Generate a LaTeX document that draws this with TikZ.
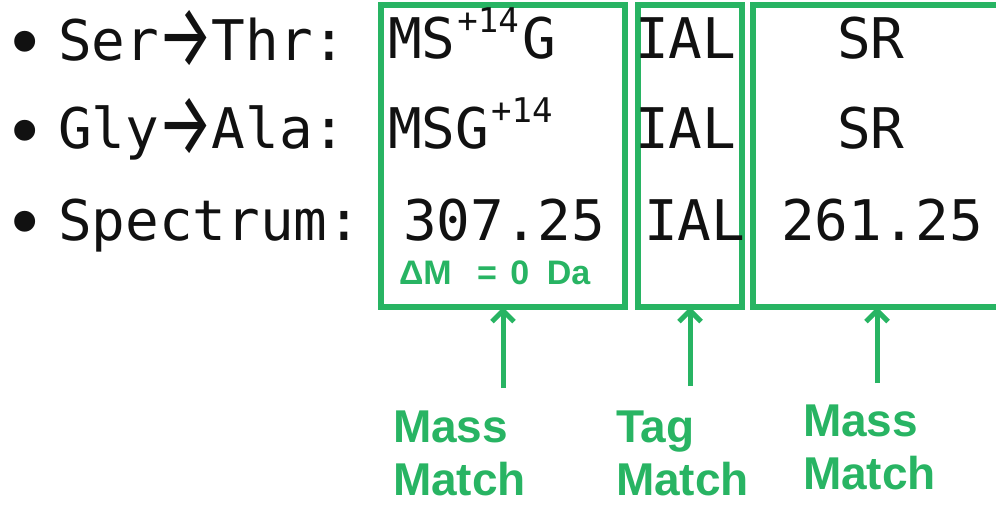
\documentclass[tikz,border=0pt]{standalone}
\usepackage{fontspec}
\setmainfont{Liberation Sans}
\setmonofont{DejaVu Sans Mono}
\newfontfamily\arrowfont{Fira Sans}
\usetikzlibrary{arrows.meta,positioning}
\definecolor{Leaf}{HTML}{28B463}
\definecolor{Ink}{HTML}{111111}
\newcommand{\modsup}[1]{\hspace{2pt}\raisebox{26pt}{\fontsize{34}{36}\selectfont#1}\hspace{4pt}}
\newcommand{\subst}{\hspace{-2pt}\raisebox{-7pt}{\scalebox{1.12}[1.6]{\arrowfont →}}\hspace{-2pt}}
\tikzset{
 every node/.style={inner sep=0pt,outer sep=0pt,text=Ink},
 seq/.style={anchor=base west,font=\ttfamily\fontsize{56}{60}\selectfont},
 dotm/.style={font=\ttfamily\fontsize{72}{76}\selectfont},
 win/.style={draw=Leaf,line width=5.5pt,inner sep=0pt,minimum height=302pt},
 arr/.style={-{Straight Barb[length=11pt,width=22pt]},line width=5pt,draw=Leaf},
 verdict/.style={anchor=north west,align=left,text=Leaf,font=\bfseries\fontsize{46}{53}\selectfont},
 delta/.style={anchor=base west,text=Leaf,font=\bfseries\fontsize{34}{38}\selectfont},
 }
\begin{document}
\begin{tikzpicture}[x=1pt,y=-1pt]
 \useasboundingbox(0,0)rectangle(996,504);
 % match windows
 \node[win,minimum width=244pt](w1)at(503,156){};
 \node[win,minimum width=104pt](w2)at(690,156){};
 \node[win,minimum width=248pt](w3)at(877,156){};
 % bullets and row names
 \node[dotm](d1)at(25,50){•};
 \node[dotm](d2)at(25,139){•};
 \node[dotm](d3)at(25,230){•};
 \node[seq](r1)at(58,60){Ser\subst Thr:};
 \node[seq](r2)at(58,148){Gly\subst Ala:};
 \node[seq](r3)at(58,240){Spectrum:};
 % sequences
 \node[seq](a1)at(388,58){MS\modsup{+14}G};
 \node[seq](a2)at(388,148){MSG\modsup{+14}};
 \node[seq](a3)at(403,240){307.25};
 \node[delta](dm)at(399,284){ΔM\hspace{16pt} =\hspace{4pt} 0\hspace{8pt} Da};
 \node[seq](t1)at(635,58){IAL};
 \node[seq](t2)at(635,148){IAL};
 \node[seq](t3)at(644,240){IAL};
 \node[seq](c1)at(837,58){SR};
 \node[seq](c2)at(837,148){SR};
 \node[seq](c3)at(781,240){261.25};
 % verdicts
 \node[verdict](v1)at(393,411){Mass\\Match};
 \node[verdict](v2)at(616,411){Tag\\Match};
 \node[verdict](v3)at(803,405){Mass\\Match};
 \coordinate(s1)at(503,388);
 \coordinate(s2)at(690,386);
 \coordinate(s3)at(877,383);
 \draw[arr](s1)--(w1.south);
 \draw[arr](s2)--(w2.south);
 \draw[arr](s3)--(w3.south);
\end{tikzpicture}
\end{document}
